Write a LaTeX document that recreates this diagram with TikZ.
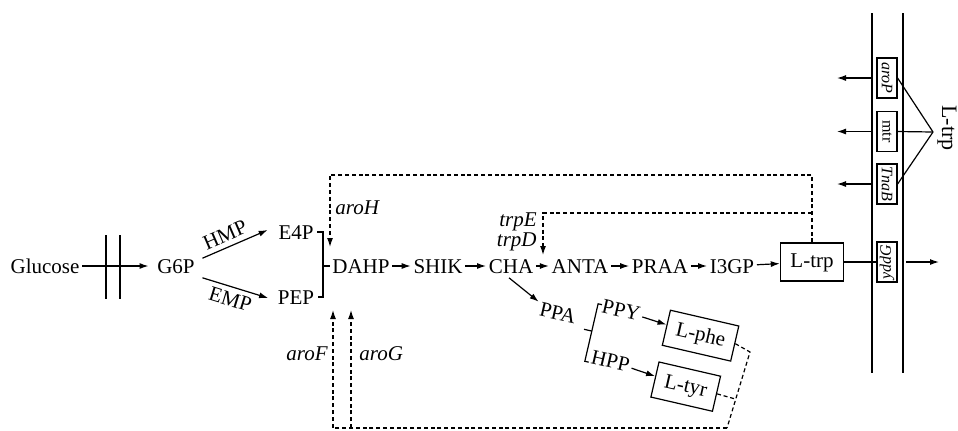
\documentclass[tikz,border=0pt]{standalone}
\usepackage{fontspec}
\setmainfont{Liberation Serif}
\usetikzlibrary{arrows.meta,calc}
\begin{document}
\begin{tikzpicture}[x=0.5pt,y=-0.5pt,
  every node/.style={font=\fontsize{10.5}{12}\selectfont, inner sep=1pt},
  met/.style={text height=7pt, text depth=0pt, inner sep=1.2pt},
  box/.style={draw, line width=0.6pt, text height=7pt, text depth=1.5pt, inner xsep=5pt, minimum height=19pt},
  lab/.style={font=\fontsize{10.5}{12}\selectfont\itshape, inner sep=1pt},
  mbox/.style={draw, line width=0.6pt, font=\fontsize{8}{9}\selectfont, minimum width=20pt, minimum height=10pt, inner sep=0.5pt},
  ln/.style={line width=0.6pt},
  arr/.style={ln, -{Latex[length=4.5pt,width=3pt]}},
  dsh/.style={line width=0.6pt, dash pattern=on 2pt off 1.4pt},
  memL/.style={line width=0.7pt},
  memR/.style={line width=0.9pt}
]
\useasboundingbox (0,0) rectangle (958,430);

% main pathway
\node[met] (glu) at (45,266) {Glucose};
\node[met] (g6p) at (176,266) {G6P};
\node[met] (e4p) at (296,232) {E4P};
\node[met] (pep) at (296,297) {PEP};
\node[met] (dahp) at (361,266) {DAHP};
\node[met] (shik) at (438,266) {SHIK};
\node[met] (cha) at (511,266) {CHA};
\node[met] (anta) at (580,266) {ANTA};
\node[met] (praa) at (660,266) {PRAA};
\node[met] (i3gp) at (732,266) {I3GP};
\node[box] (ltrp) at (812,262) {L-trp};

\draw[arr, shorten >=3pt] (glu) -- (g6p);
\draw[ln] (106,235) -- (106,299);
\draw[ln] (120,235) -- (120,299);

\draw[arr] ($(g6p.north east)+(5,2)$) -- node[sloped, above=1.5pt, pos=0.42] {HMP} ($(e4p.west)+(-8,-2)$);
\draw[arr] ($(g6p.south east)+(5,2)$) -- node[sloped, below=1.5pt, pos=0.48] {EMP} ($(pep.west)+(-7,1)$);

\coordinate (bk) at (323,266);
\draw[ln] ($(e4p.east)+(1,0)$) -| (bk) |- ($(pep.east)+(1,0)$);
\draw[ln] (bk) -- (dahp.west);

\draw[arr] (dahp) -- (shik);
\draw[arr] (shik) -- (cha);
\draw[arr] (cha) -- (anta);
\draw[arr] (anta) -- (praa);
\draw[arr] (praa) -- (i3gp);
\draw[arr] (i3gp) -- (ltrp);

% feedback top
\coordinate (fbtop) at (812,175);
\coordinate (aroHtip) at (330,247);
\draw[dsh, -{Latex[length=4.5pt,width=3pt]}] (ltrp.north) -- (fbtop) -| (aroHtip);
\coordinate (fbmid) at (812,213);
\coordinate (trptip) at (543,255);
\draw[dsh, -{Latex[length=4.5pt,width=3pt]}] (fbmid) -| (trptip);
\node[lab, anchor=west] (aroh) at (333,208) {aroH};
\node[lab, anchor=east] (trpe) at (539,222) {trpE};
\node[lab, anchor=east] (trpd) at (539,242) {trpD};

% branch PPA
\begin{scope}[shift={(558,313)}, rotate=-13, transform shape]
\node[met] (ppa) at (0,0) {PPA};
\node[met] (ppy) at (61,-17) {PPY};
\node[met] (hpp) at (62,35) {HPP};
\node[box, minimum height=18pt] (lphe) at (144,-10) {L-phe};
\node[box, minimum height=18pt] (ltyr) at (141,43) {L-tyr};
\draw[ln] (29,10) -- (37,10);
\draw[ln] (41,-18) -- (37,-18) -- (37,41) -- (41,41);
\draw[arr] (ppy) -- (lphe);
\draw[arr] (hpp) -- (ltyr);
\end{scope}
\draw[arr] ($(cha.south)+(-2,2)$) -- ($(ppa.north west)+(-1,3)$);

% feedback bottom
\coordinate (bkR) at (750,352);
\coordinate (bkB) at (727,428);
\coordinate (aroFtip) at (333,310);
\coordinate (aroGtip) at (351,310);
\draw[dsh] (lphe.east) -- (bkR) -- (bkB);
\draw[dsh] (ltyr.east) -- ($(bkR)!0.62!(bkB)$);
\draw[dsh, -{Latex[length=4.5pt,width=3pt]}] (bkB) -| (aroFtip);
\draw[dsh, -{Latex[length=4.5pt,width=3pt]}] (aroGtip |- bkB) -- (aroGtip);
\node[lab, anchor=east] (arof) at (330,354) {aroF};
\node[lab, anchor=west] (arog) at (357,354) {aroG};

% membrane
\coordinate (mL) at (872,0);
\coordinate (mR) at (903,0);
\draw[memL] (872,13) -- (872,373);
\draw[memR] (903,13) -- (903,373);
\node[mbox, rotate=-90] (arop) at (887,78) {\itshape aroP};
\node[mbox, rotate=-90] (mtr) at (887,131.5) {mtr};
\node[mbox, rotate=-90] (tnab) at (887,184) {\itshape TnaB};
\node[mbox, rotate=90] (yddg) at (887,262) {\itshape yddG};

\draw[arr] (arop -| mL) -- ++(-35,0);
\draw[arr] (mtr -| mL) -- ++(-35,0);
\draw[arr] (tnab -| mL) -- ++(-35,0);

\node[rotate=-90, font=\fontsize{11}{12}\selectfont, inner sep=0pt] (ltrplab) at (947,128) {L-trp};
\coordinate (conv) at (933,132);
\draw[ln] (conv) -- (arop.north);
\draw[ln] (conv) -- (mtr.north);
\draw[ln] (conv) -- (tnab.north);

\draw[ln] (ltrp.east) -- (ltrp.east -| yddg.north);
\draw[arr] ($(ltrp.east -| mR)+(3,0)$) -- ++(33,0);
\end{tikzpicture}
\end{document}
